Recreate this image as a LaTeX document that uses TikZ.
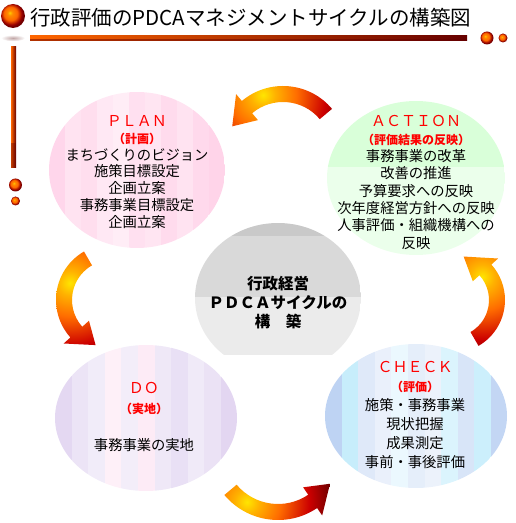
\documentclass[tikz,border=0pt]{standalone}
\usepackage{fontspec}
\setmainfont{Noto Sans CJK JP}
\definecolor{planpink}{RGB}{255,0,128}
\definecolor{dopurple}{RGB}{120,60,190}
\definecolor{checkblue}{RGB}{40,110,215}
\pgfdeclareradialshading{arrowglow}{\pgfpointorigin}{color(0bp)=(yellow!80!orange); color(2.5bp)=(orange!60!yellow); color(7bp)=(orange!85!red); color(13bp)=(red!80!black); color(18bp)=(red!40!black); color(50bp)=(red!35!black)}
\pgfdeclareradialshading{ballglow}{\pgfpoint{-7bp}{7bp}}{color(0bp)=(yellow!60!orange); color(5bp)=(orange!90!yellow); color(14bp)=(orange!80!red); color(22bp)=(red!60!black); color(25bp)=(red!45!black); color(50bp)=(red!45!black)}
\newcommand{\cycarrow}[6]{%
  \begin{scope}
    \clip[shift={#1}] (#3:#2+8) arc[start angle=#3,end angle=#4,radius=#2+8]
      -- (#4:#2+17) -- (#5:#2) -- (#4:#2-17) -- (#4:#2-8)
      arc[start angle=#4,end angle=#3,radius=#2-8] -- cycle;
    \shade[shading=arrowglow] #6 circle[radius=120];
  \end{scope}}

\begin{document}
\begin{tikzpicture}[x=1pt,y=1pt,
  bodytext/.style={align=center,inner sep=0pt,font=\fontsize{14.3}{16.7}\selectfont}]
\path[use as bounding box] (0,0) rectangle (516,523);
\shade[shading=ballglow] (13,507) circle[radius=12];
\shade[inner color=red!30!black!35, outer color=white] (13,485) ellipse[x radius=12,y radius=3.2];
\shade[left color=orange!80!red, middle color=orange!55!yellow, right color=red!40!black] (30,482) rectangle (467,487);
\fill[red!40!black,opacity=.5] (30,482) rectangle (467,483.5);
\shade[shading=ballglow] (487,485) circle[radius=6.5];
\shade[shading=ballglow] (503,485) circle[radius=4.5];
\shade[left color=orange!80!red, middle color=yellow!45!orange, right color=red!40!black] (11,355) rectangle (16,476);
\fill[red!40!black,opacity=.4] (11,355) rectangle (16,380);
\shade[shading=ballglow] (15.5,338) circle[radius=6.5];
\shade[shading=ballglow] (15.5,322) circle[radius=4.5];
\node[anchor=west,inner sep=0pt,font=\fontsize{20.5}{24}\selectfont] (title) at (30,505) {行政評価のPDCAマネジメントサイクルの構築図};
\begin{scope}
\clip (137,353) ellipse[x radius=88,y radius=78];
\foreach \k [count=\i] in {16,11,13,9,7,12,10,14,11,15,17}
  \fill[planpink!\k!white] (49+16*\i-16,275) rectangle ++(16,156);
\end{scope}
\begin{scope}
\clip (416,345) ellipse[x radius=89,y radius=77];
\fill[green!15!white] (327,356) rectangle (505,422);
\fill[green!8!white] (327,268) rectangle (505,356);
\end{scope}
\begin{scope}
\clip (55,32) rectangle (237,178);
\clip (146,105) ellipse[x radius=91,y radius=73];
\foreach \c [count=\i] in {dopurple!20!white,dopurple!14!white,dopurple!10!white,magenta!6!white,dopurple!9!white,magenta!8!white,dopurple!12!white,dopurple!16!white,dopurple!11!white,dopurple!15!white,dopurple!21!white}
  \fill[\c] (55+16.6*\i-16.6,32) rectangle ++(16.6,146);
\end{scope}
\begin{scope}
\clip (416,107) ellipse[x radius=91,y radius=72];
\foreach \c [count=\i] in {checkblue!30!white,cyan!22!white,checkblue!15!white,checkblue!10!white,cyan!8!white,checkblue!12!white,checkblue!9!white,cyan!14!white,checkblue!18!white,cyan!20!white,checkblue!28!white}
  \fill[\c] (325+16.6*\i-16.6,35) rectangle ++(16.6,144);
\end{scope}
\begin{scope}
\clip (195,168) rectangle (361,300);
\clip (278,225) ellipse[x radius=83,y radius=75];
\fill[black!21!white] (195,287) rectangle (361,300);
\fill[black!15!white] (195,226) rectangle (361,287);
\fill[black!8!white] (195,168) rectangle (361,226);
\end{scope}
\cycarrow{(283,373)}{56}{40}{130}{155}{(263,428)}
\cycarrow{(112,223)}{48}{120}{222}{250}{(70,240)}
\cycarrow{(278,73)}{62}{220}{304}{327}{(247,21)}
\cycarrow{(452,223)}{45}{-60}{42}{75}{(482,246)}
\node[bodytext] (plantext) at (137,351) {\textcolor{red}{\fontsize{15}{16.7}\selectfont ＰＬＡＮ}\\{\color{red}\bfseries\fontsize{12}{16.7}\selectfont（計画）}\\まちづくりのビジョン\\施策目標設定\\企画立案\\事務事業目標設定\\企画立案};
\node[bodytext,font=\fontsize{14.3}{17.3}\selectfont] (actiontext) at (416,340.5) {\textcolor{red}{\fontsize{15}{17.3}\selectfont ＡＣＴＩＯＮ}\\{\color{red}\bfseries\fontsize{12}{17.3}\selectfont（評価結果の反映）}\\事務事業の改革\\改善の推進\\予算要求への反映\\次年度経営方針への反映\\人事評価・組織機構への\\反映};
\node[bodytext,font=\fontsize{14.3}{20}\selectfont] (dotext) at (144,106.5) {\textcolor{red}{\fontsize{15}{20}\selectfont ＤＯ}\\{\color{red}\bfseries\fontsize{12}{20}\selectfont（実地）}\\[17pt]事務事業の実地};
\node[bodytext,font=\fontsize{14.3}{19}\selectfont] (checktext) at (415,108) {\textcolor{red}{\fontsize{15}{19}\selectfont ＣＨＥＣＫ}\\{\color{red}\bfseries\fontsize{12}{19}\selectfont（評価）}\\施策・事務事業\\現状把握\\成果測定\\事前・事後評価};
\node[bodytext,font=\bfseries\fontsize{15.5}{19}\selectfont] (coretext) at (278,220) {行政経営\\ＰＤＣＡサイクルの\\構　築};
\end{tikzpicture}
\end{document}
